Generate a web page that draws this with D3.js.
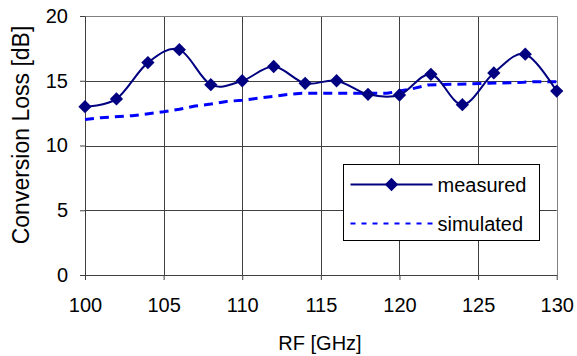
<!DOCTYPE html>
<html>
<head>
<meta charset="utf-8">
<script src="https://cdn.jsdelivr.net/npm/d3@7"></script>
<style>
  html, body { margin: 0; padding: 0; background: #fff; }
  svg text { font-family: "Liberation Sans", Arial, sans-serif; fill: #000; }
</style>
</head>
<body>
<div id="chart"></div>
<script>
// measured conversion loss, every 2 GHz
const rfMeasured = [100, 102, 104, 106, 108, 110, 112, 114, 116, 118, 120, 122, 124, 126, 128, 130];
const lossMeasured = [13.0, 13.6, 16.4, 17.4, 14.7, 15.0, 16.1, 14.8, 15.0, 13.95, 13.9, 15.5, 13.15, 15.6, 17.05, 14.2];

// simulated conversion loss
const rfSimulated = [100, 101, 103, 105, 106, 107, 108, 109, 110, 112, 113, 113.8, 119.2, 120.7, 121.8, 127.9, 128.5, 130];
const lossSimulated = [12.0, 12.15, 12.3, 12.6, 12.8, 13.05, 13.2, 13.4, 13.5, 13.8, 13.95, 14.03, 14.03, 14.35, 14.67, 14.88, 14.93, 14.93];

const xTicks = [100, 105, 110, 115, 120, 125, 130];
const yTicks = [0, 5, 10, 15, 20];
const seriesNames = ['measured', 'simulated'];

const W = 577, H = 356;
const margin = { top: 16, right: 20.3, bottom: 81, left: 85 };
const width = W - margin.left - margin.right;
const height = H - margin.top - margin.bottom;

const svg = d3.select('#chart')
  .append('svg')
  .attr('width', W)
  .attr('height', H);

const g = svg.append('g')
  .attr('transform', `translate(${margin.left},${margin.top})`);

const x = d3.scaleLinear().domain([100, 130]).range([0, width]);
const y = d3.scaleLinear().domain([0, 20]).range([height, 0]);

// grid lines
g.append('g')
  .selectAll('line')
  .data(yTicks.filter(d => d > 0 && d < 20))
  .enter().append('line')
  .attr('x1', 0).attr('x2', width)
  .attr('y1', d => Math.round(y(d)) + 0.5).attr('y2', d => Math.round(y(d)) + 0.5)
  .style('stroke', '#404040');

g.append('g')
  .selectAll('line')
  .data(xTicks.filter(d => d > 100 && d < 130))
  .enter().append('line')
  .attr('y1', 0).attr('y2', height)
  .attr('x1', d => Math.round(x(d)) + 0.5).attr('x2', d => Math.round(x(d)) + 0.5)
  .style('stroke', '#404040');

// frame top / right in gray
g.append('path')
  .attr('d', `M0,0.5H${Math.round(width) + 0.5}V${height}`)
  .style('fill', 'none')
  .style('stroke', '#808080');

// axes
const xAxis = d3.axisBottom(x).tickValues(xTicks).tickSize(5).tickPadding(18).tickSizeOuter(0);
const yAxis = d3.axisLeft(y).tickValues(yTicks).tickSize(5).tickPadding(12).tickSizeOuter(0);

const gx = g.append('g')
  .attr('transform', `translate(0,${height})`)
  .call(xAxis);
const gy = g.append('g').call(yAxis);

[gx, gy].forEach(a => {
  a.select('.domain').style('stroke', '#404040');
  a.selectAll('.tick line').style('stroke', '#404040');
  a.selectAll('text').style('font-size', '20px').style('fill', '#000');
});

// simulated (dashed)
const simPts = rfSimulated.map((r, i) => [r, lossSimulated[i]]);
g.append('path')
  .datum(simPts)
  .attr('d', d3.line().x(d => x(d[0])).y(d => y(d[1])))
  .style('fill', 'none')
  .style('stroke', '#0000ff')
  .style('stroke-width', 3)
  .style('stroke-dasharray', '9,6');

// measured (smoothed line + diamonds)
const measPts = rfMeasured.map((r, i) => [r, lossMeasured[i]]);
g.append('path')
  .datum(measPts)
  .attr('d', d3.line().x(d => x(d[0])).y(d => y(d[1])).curve(d3.curveCardinal.tension(0)))
  .style('fill', 'none')
  .style('stroke', '#000080')
  .style('stroke-width', 2);

const diamond = d3.symbol(d3.symbolSquare, 88);
g.selectAll('.dot')
  .data(measPts)
  .enter().append('path')
  .attr('class', 'dot')
  .attr('d', diamond)
  .attr('transform', d => `translate(${x(d[0])},${y(d[1])}) rotate(45)`)
  .style('fill', '#000080');

// axis titles
svg.append('text')
  .attr('x', 320)
  .attr('y', 350)
  .attr('text-anchor', 'middle')
  .style('font-size', '20px')
  .text('RF [GHz]');

svg.append('text')
  .attr('transform', 'translate(29,135) rotate(-90)')
  .attr('text-anchor', 'middle')
  .style('font-size', '23px')
  .text('Conversion Loss [dB]');

// legend
const legend = svg.append('g').attr('transform', 'translate(343.5,164.5)');
legend.append('rect')
  .attr('width', 196).attr('height', 76)
  .style('fill', '#fff')
  .style('stroke', '#000');

legend.append('line')
  .attr('x1', 7).attr('x2', 89).attr('y1', 20).attr('y2', 20)
  .style('stroke', '#000080').style('stroke-width', 2);
legend.append('path')
  .attr('d', diamond)
  .attr('transform', 'translate(48,20) rotate(45)')
  .style('fill', '#000080');
legend.append('line')
  .attr('x1', 7).attr('x2', 89).attr('y1', 59).attr('y2', 59)
  .style('stroke', '#0000ff').style('stroke-width', 2)
  .style('stroke-dasharray', '5,6');

legend.selectAll('.lbl')
  .data(seriesNames)
  .enter().append('text')
  .attr('class', 'lbl')
  .attr('x', 94)
  .attr('y', (d, i) => i === 0 ? 27 : 66)
  .style('font-size', '20px')
  .text(d => d);
</script>
</body>
</html>
